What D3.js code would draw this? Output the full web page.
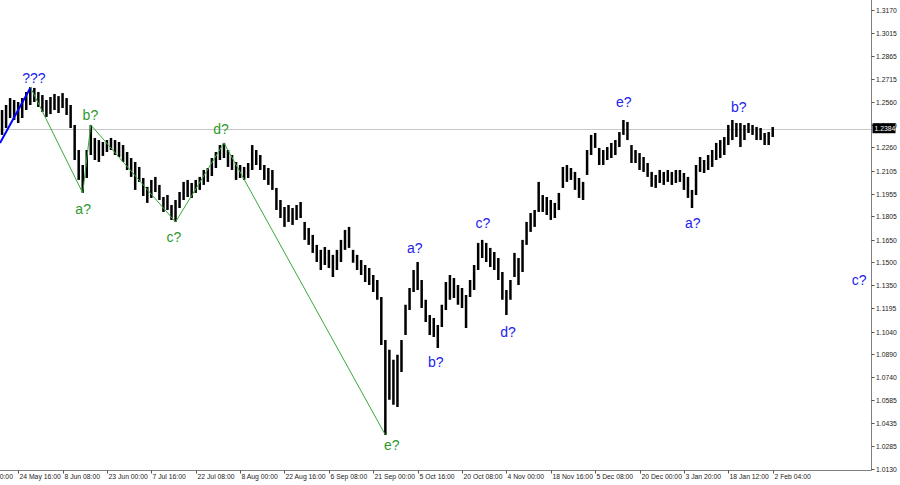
<!DOCTYPE html>
<html><head><meta charset="utf-8">
<script src="https://cdn.jsdelivr.net/npm/d3@7"></script>
<style>html,body{margin:0;padding:0;background:#fff;}svg{display:block;}</style>
</head><body>
<svg id="c" width="900" height="485"></svg>
<script>
// ---- DATA ----
const highs = [1.2475,1.2508,1.2541,1.2587,1.2574,1.2561,1.2587,1.2627,1.2660,1.2654,
1.2627,1.2607,1.2574,1.2594,1.2614,1.2600,1.2620,1.2587,1.2541,1.2409,
1.2243,1.2144,1.2243,1.2409,1.2323,1.2309,1.2296,1.2309,1.2323,1.2309,
1.2296,1.2276,1.2230,1.2190,1.2164,1.2131,1.2058,1.1999,1.2045,1.2065,
1.2012,1.1932,1.1945,1.1879,1.1912,1.1965,1.2032,1.2045,1.2025,1.2045,
1.2065,1.2111,1.2124,1.2190,1.2230,1.2276,1.2290,1.2243,1.2210,1.2164,
1.2144,1.2131,1.2157,1.2276,1.2243,1.2210,1.2144,1.2124,1.2111,1.1992,
1.1912,1.1866,1.1879,1.1859,1.1879,1.1899,1.1767,1.1727,1.1681,1.1615,
1.1582,1.1601,1.1582,1.1549,1.1582,1.1648,1.1714,1.1734,1.1582,1.1549,
1.1515,1.1482,1.1462,1.1416,1.1383,1.1270,1.0986,1.0920,1.0854,1.0887,
1.0986,1.1218,1.1330,1.1449,1.1502,1.1383,1.1251,1.1151,1.1131,1.1085,
1.1218,1.1370,1.1416,1.1396,1.1350,1.1330,1.1284,1.1383,1.1482,1.1628,
1.1648,1.1628,1.1595,1.1568,1.1529,1.1436,1.1317,1.1383,1.1562,1.1529,
1.1648,1.1767,1.1826,1.1846,1.2032,1.1945,1.1932,1.1912,1.1893,1.1959,
1.2131,1.2144,1.2124,1.2098,1.2058,1.2032,1.2243,1.2343,1.2356,1.2257,
1.2243,1.2263,1.2290,1.2309,1.2362,1.2442,1.2429,1.2276,1.2243,1.2223,
1.2197,1.2157,1.2098,1.2078,1.2111,1.2098,1.2111,1.2098,1.2111,1.2111,
1.2091,1.2065,1.1979,1.2144,1.2197,1.2177,1.2210,1.2243,1.2290,1.2309,
1.2329,1.2409,1.2442,1.2422,1.2422,1.2409,1.2422,1.2409,1.2396,1.2389,
1.2356,1.2362,1.2396];
const lows = [1.2309,1.2343,1.2389,1.2455,1.2442,1.2422,1.2455,1.2508,1.2541,1.2561,
1.2528,1.2495,1.2462,1.2481,1.2508,1.2488,1.2521,1.2475,1.2389,1.2177,
1.2045,1.1959,1.2058,1.2210,1.2177,1.2164,1.2204,1.2230,1.2243,1.2210,
1.2197,1.2164,1.2111,1.2065,1.1979,1.2032,1.1939,1.1893,1.1926,1.1965,
1.1912,1.1833,1.1846,1.1780,1.1767,1.1859,1.1912,1.1932,1.1926,1.1959,
1.1979,1.2012,1.2032,1.2071,1.2124,1.2177,1.2190,1.2131,1.2111,1.2045,
1.2058,1.2045,1.2058,1.2111,1.2144,1.2111,1.2045,1.2012,1.1979,1.1846,
1.1793,1.1734,1.1767,1.1747,1.1780,1.1793,1.1648,1.1615,1.1562,1.1502,
1.1449,1.1482,1.1462,1.1403,1.1449,1.1502,1.1582,1.1595,1.1496,1.1449,
1.1416,1.1370,1.1350,1.1303,1.1251,1.0953,1.0357,1.0589,1.0556,1.0542,
1.0774,1.1018,1.1184,1.1303,1.1317,1.1198,1.1105,1.1018,1.1005,1.0933,
1.1071,1.1184,1.1251,1.1264,1.1218,1.1198,1.1065,1.1270,1.1317,1.1449,
1.1529,1.1502,1.1469,1.1449,1.1383,1.1251,1.1151,1.1251,1.1403,1.1350,
1.1436,1.1615,1.1701,1.1734,1.1833,1.1833,1.1813,1.1780,1.1793,1.1846,
1.1992,1.2032,1.2045,1.1979,1.1926,1.1912,1.2078,1.2210,1.2257,1.2144,
1.2144,1.2177,1.2190,1.2210,1.2263,1.2343,1.2309,1.2157,1.2157,1.2111,
1.2098,1.2065,1.1999,1.1992,1.2025,1.2012,1.2032,1.2012,1.2025,1.2032,
1.1979,1.1926,1.1859,1.1945,1.2098,1.2091,1.2111,1.2131,1.2177,1.2190,
1.2210,1.2276,1.2309,1.2329,1.2263,1.2309,1.2356,1.2343,1.2309,1.2309,
1.2276,1.2276,1.2329];
const lastPrice = 1.2384;

const priceTicks = ["1.3170","1.3015","1.2865","1.2715","1.2560","1.2410","1.2260","1.2105","1.1955","1.1805","1.1650",
"1.1500","1.1350","1.1195","1.1040","1.0890","1.0740","1.0585","1.0435","1.0285","1.0130"];
const timeLabels = ["9 May 00:00","24 May 16:00","8 Jun 08:00","23 Jun 00:00","7 Jul 16:00","22 Jul 08:00","8 Aug 00:00",
"22 Aug 16:00","6 Sep 08:00","21 Sep 00:00","5 Oct 16:00","20 Oct 08:00","4 Nov 00:00","18 Nov 16:00","5 Dec 08:00",
"20 Dec 00:00","3 Jan 20:00","18 Jan 12:00","2 Feb 04:00"];
const timeLabelBars = [-6,5,16,27,38,49,60,71,82,93,104,115,126,137,148,159,170,181,192];

// wave paths [bar index, price]
const blueWave = [[0.5,1.2290],[8,1.2654]];
const greenWave = [[8,1.2660],[21,1.1959],[23,1.2409],[44,1.1767],[56,1.2290],[96,1.0357]];
// wave labels [text, bar index, price, colour group]
const waveLabels = [
 ["???",8.9,1.2687,"b"],["b?",22.9,1.2442,"g"],["a?",21.1,1.1820,"g"],["c?",43.6,1.1634,"g"],
 ["d?",55.3,1.2349,"g"],["e?",97.6,1.0257,"g"],["a?",103.3,1.1561,"b"],["b?",108.5,1.0807,"b"],
 ["c?",120.2,1.1727,"b"],["d?",126.4,1.1006,"b"],["e?",155.1,1.2528,"b"],["a?",172.2,1.1727,"b"],
 ["b?",183.6,1.2495,"b"],["c?",213.4,1.1350,"b"]
];

// ---- DRAW ----
const svg = d3.select("#c");
const plotRight = 871.5, plotBottom = 470.5;
const x = d3.scaleLinear().domain([0,192]).range([-2,772.7]);
const y = d3.scaleLinear().domain([1.0130,1.3170]).range([469.2,10]);

svg.append("defs").append("clipPath").attr("id","pc")
  .append("rect").attr("x",0).attr("y",0).attr("width",plotRight).attr("height",plotBottom);

const plot = svg.append("g").attr("clip-path","url(#pc)");

// current price line
plot.append("line").attr("x1",0).attr("x2",plotRight)
  .attr("y1",Math.round(y(lastPrice))+0.5).attr("y2",Math.round(y(lastPrice))+0.5)
  .attr("stroke","#c8c8c8").attr("stroke-width",1);

// bars (high-low)
plot.append("g").selectAll("line").data(highs).join("line")
  .attr("x1",(d,i)=>x(i)).attr("x2",(d,i)=>x(i))
  .attr("y1",d=>y(d)).attr("y2",(d,i)=>y(lows[i]))
  .attr("stroke","#000").attr("stroke-width",2.5);

// waves
const ln = d3.line().x(d=>x(d[0])).y(d=>y(d[1]));
plot.append("path").attr("d",ln(greenWave)).attr("fill","none").attr("stroke","#3aa83a").attr("stroke-width",1);
plot.append("path").attr("d",ln(blueWave)).attr("fill","none").attr("stroke","#0000ff").attr("stroke-width",2);

// wave labels
svg.append("g").selectAll("text").data(waveLabels).join("text")
  .attr("x",d=>x(d[1])).attr("y",d=>y(d[2]))
  .attr("text-anchor","middle")
  .attr("font-family","Liberation Sans, Arial, sans-serif").attr("font-size",14)
  .attr("fill",d=>d[3]==="b"?"#2222ee":"#2e9a2e")
  .text(d=>d[0]);

// axes frame
svg.append("line").attr("x1",plotRight).attr("x2",plotRight).attr("y1",0).attr("y2",plotBottom)
  .attr("stroke","#808080").attr("stroke-width",1);
svg.append("line").attr("x1",0).attr("x2",plotRight).attr("y1",plotBottom).attr("y2",plotBottom)
  .attr("stroke","#808080").attr("stroke-width",1);

// right axis ticks
const ra = svg.append("g");
priceTicks.forEach(t=>{
  const yy = Math.round(y(+t))+0.5;
  ra.append("line").attr("x1",plotRight).attr("x2",plotRight+3).attr("y1",yy).attr("y2",yy).attr("stroke","#555");
  ra.append("text").attr("x",876).attr("y",yy).attr("dy","0.35em")
    .attr("font-family","Liberation Sans, Arial, sans-serif").attr("font-size",6.8).attr("fill","#222").text(t);
});
// last price label
const ly = y(lastPrice);
ra.append("rect").attr("x",872.5).attr("y",ly-5.5).attr("width",23).attr("height",10).attr("fill","#000");
ra.append("text").attr("x",874.5).attr("y",ly).attr("dy","0.35em")
  .attr("font-family","Liberation Sans, Arial, sans-serif").attr("font-size",6.8).attr("fill","#fff").text(lastPrice.toFixed(4));

// bottom axis
const ba = svg.append("g");
timeLabels.forEach((t,k)=>{
  const xx = Math.round(x(timeLabelBars[k]))+0.5;
  ba.append("line").attr("x1",xx).attr("x2",xx).attr("y1",plotBottom).attr("y2",plotBottom+3).attr("stroke","#555");
  ba.append("text").attr("x",xx+1).attr("y",479)
    .attr("font-family","Liberation Sans, Arial, sans-serif").attr("font-size",6.8).attr("fill","#222").text(t);
});
</script>
</body></html>
